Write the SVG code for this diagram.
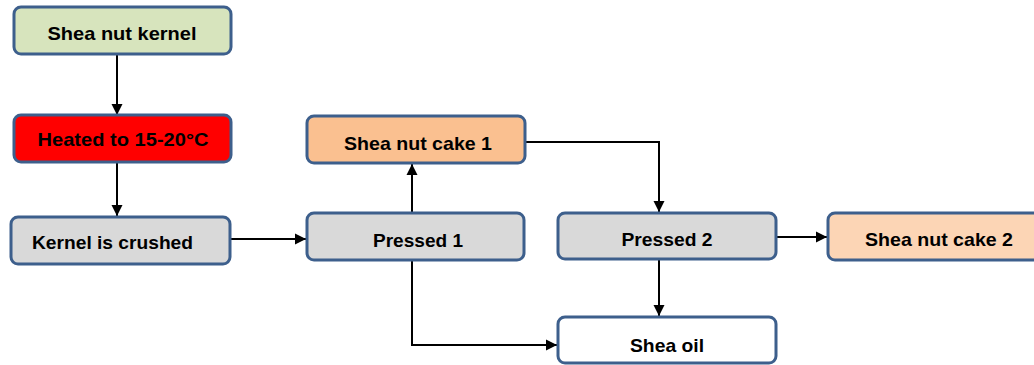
<svg xmlns="http://www.w3.org/2000/svg" width="1034" height="365" viewBox="0 0 1034 365">
<style>
.box{stroke:#3d5f8c;stroke-width:3}
.t{font-family:"Liberation Sans",Arial,sans-serif;font-weight:bold;font-size:19px;fill:#000;text-anchor:middle}
.c{fill:none;stroke:#000;stroke-width:2}
</style>
<defs>
<marker id="ah" markerWidth="12" markerHeight="12" refX="11" refY="6" orient="auto" markerUnits="userSpaceOnUse">
<path d="M0,0.5 L11,6 L0,11.5 Z" fill="#000"/>
</marker>
</defs>
<rect width="1034" height="365" fill="#fff"/>
<g id="connectors">
<path class="c" d="M117,55 V115" marker-end="url(#ah)"/>
<path class="c" d="M117,162 V216" marker-end="url(#ah)"/>
<path class="c" d="M231,239 H306" marker-end="url(#ah)"/>
<path class="c" d="M412,213 V164" marker-end="url(#ah)"/>
<path class="c" d="M526,142 H659 V212" marker-end="url(#ah)"/>
<path class="c" d="M777,237 H827" marker-end="url(#ah)"/>
<path class="c" d="M659,260 V316" marker-end="url(#ah)"/>
<path class="c" d="M412,261 V345 H557" marker-end="url(#ah)"/>
</g>
<g id="n-kernel">
<rect class="box" x="14" y="7" width="217" height="47" rx="7" fill="#d7e4bd"/>
<text class="t" x="122" y="40" textLength="149" lengthAdjust="spacingAndGlyphs">Shea nut kernel</text>
</g>
<g id="n-heated">
<rect class="box" x="14" y="115" width="217" height="47" rx="7" fill="#ff0000"/>
<text class="t" x="123" y="146" textLength="171" lengthAdjust="spacingAndGlyphs">Heated to 15-20°C</text>
</g>
<g id="n-crushed">
<rect class="box" x="11" y="217" width="219" height="47" rx="7" fill="#d9d9d9"/>
<text class="t" x="32" y="249" style="text-anchor:start" textLength="161" lengthAdjust="spacingAndGlyphs">Kernel is crushed</text>
</g>
<g id="n-cake1">
<rect class="box" x="307" y="116" width="218" height="47" rx="7" fill="#fac090"/>
<text class="t" x="418" y="150" textLength="148" lengthAdjust="spacingAndGlyphs">Shea nut cake 1</text>
</g>
<g id="n-pressed1">
<rect class="box" x="307" y="213" width="217" height="47" rx="7" fill="#d9d9d9"/>
<text class="t" x="418" y="247" textLength="90" lengthAdjust="spacingAndGlyphs">Pressed 1</text>
</g>
<g id="n-pressed2">
<rect class="box" x="558" y="213" width="218" height="46" rx="7" fill="#d9d9d9"/>
<text class="t" x="667" y="246" textLength="91" lengthAdjust="spacingAndGlyphs">Pressed 2</text>
</g>
<g id="n-cake2">
<rect class="box" x="828" y="213" width="220" height="47" rx="7" fill="#fcd5b5"/>
<text class="t" x="939" y="246" textLength="148" lengthAdjust="spacingAndGlyphs">Shea nut cake 2</text>
</g>
<g id="n-oil">
<rect class="box" x="558" y="317" width="218" height="46" rx="7" fill="#fff"/>
<text class="t" x="667" y="352" textLength="74" lengthAdjust="spacingAndGlyphs">Shea oil</text>
</g>
</svg>
